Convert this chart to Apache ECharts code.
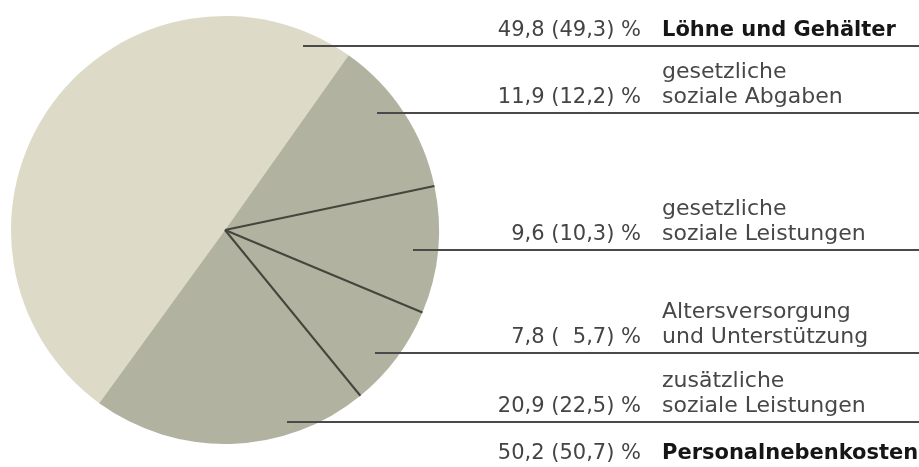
<!DOCTYPE html>
<html>
<head>
<meta charset="utf-8">
<script src="https://cdn.jsdelivr.net/npm/echarts@6/dist/echarts.min.js"></script>
<style>
  html, body { margin: 0; padding: 0; background: #ffffff; }
  #chart { width: 919px; height: 467px; }
</style>
</head>
<body>
<div id="chart"></div>
<script>
// Anteile an den Personalkosten in Prozent (Vorjahr in Klammern)
const names = [
  ['Löhne und Gehälter'],
  ['gesetzliche', 'soziale Abgaben'],
  ['gesetzliche', 'soziale Leistungen'],
  ['Altersversorgung', 'und Unterstützung'],
  ['zusätzliche', 'soziale Leistungen']
];
const shares = [49.8, 11.9, 9.6, 7.8, 20.9];
const sharesPrev = [49.3, 12.2, 10.3, 5.7, 22.5];
const totalName = 'Personalnebenkosten';

// Layout
const CX = 225, CY = 230, R = 214, START = 234;
const rowLineY = [46, 113, 250, 353, 422];
const leaderStartX = [303, 377, 413, 375, 287];
const NUM_RIGHT = 641, TXT_LEFT = 662, LINE_END = 919;
const TOTAL_BOTTOM = 467;

// Styles
const FONT = '"DejaVu Sans"';
const FS = 22, FS_NUM = 21, FS_BOLD = 21, LH = 25;
const LIGHT = '#dddbc7', DARK = '#b1b3a0';
const NUM_COLOR = '#444444', TXT_COLOR = '#474747', BOLD_COLOR = '#161616';
const LEADER_COLOR = '#4a4a4a', SPOKE_COLOR = '#44463c';

const fmtCur = v => v.toFixed(1).replace('.', ',');
const fmtPrev = v => (v < 10 ? '\u2007' : '') + v.toFixed(1).replace('.', ',');
const numText = (cur, prev) => fmtCur(cur) + ' (' + fmtPrev(prev) + ') %';

// Personalnebenkosten = Summe aller Anteile außer Löhnen und Gehältern
const sumFrom1 = arr => arr.slice(1).reduce((a, b) => a + b, 0);
const total = sumFrom1(shares);
const totalPrev = sumFrom1(sharesPrev);

const baseText = { fontFamily: FONT, fontSize: FS, lineHeight: LH };

// Radial separators between the cost components after the first slice
const allSum = shares.reduce((a, b) => a + b, 0);
const spokes = [];
let cum = shares[0];
for (let i = 1; i < shares.length - 1; i++) {
  cum += shares[i];
  const a = (START - 360 * cum / allSum) * Math.PI / 180;
  spokes.push({
    type: 'line',
    z: 10,
    silent: true,
    shape: { x1: CX, y1: CY, x2: CX + R * Math.cos(a), y2: CY - R * Math.sin(a) },
    style: { stroke: SPOKE_COLOR, lineWidth: 2 }
  });
}

const chart = echarts.init(document.getElementById('chart'));
chart.setOption({
  animation: false,
  backgroundColor: '#ffffff',
  graphic: spokes.concat([
    {
      type: 'text', z: 10, silent: true,
      style: {
        x: NUM_RIGHT, y: TOTAL_BOTTOM - 3, text: numText(total, totalPrev),
        textAlign: 'right', textVerticalAlign: 'bottom',
        font: FS_NUM + 'px ' + FONT, fill: NUM_COLOR
      }
    },
    {
      type: 'text', z: 10, silent: true,
      style: {
        x: TXT_LEFT, y: TOTAL_BOTTOM - 3, text: totalName,
        textAlign: 'left', textVerticalAlign: 'bottom',
        font: 'bold ' + FS_BOLD + 'px ' + FONT, fill: BOLD_COLOR
      }
    }
  ]),
  series: [
    {
      type: 'pie',
      z: 2,
      center: [CX, CY],
      radius: R,
      startAngle: START,
      clockwise: true,
      silent: true,
      avoidLabelOverlap: false,
      data: shares.map((v, i) => ({
        value: v,
        name: names[i].join(' '),
        itemStyle: { color: i === 0 ? LIGHT : DARK }
      })),
      itemStyle: { borderWidth: 0 },
      label: {
        show: true,
        position: 'outside',
        ...baseText,
        formatter: p => {
          const lines = names[p.dataIndex];
          const key = p.dataIndex === 0 ? 'b' : 't';
          return lines.map(s => '{' + key + '|' + s + '}').join('\n');
        },
        rich: {
          b: { ...baseText, fontSize: FS_BOLD, fontWeight: 'bold', color: BOLD_COLOR },
          t: { ...baseText, color: TXT_COLOR }
        }
      },
      labelLine: { show: false },
      labelLayout: p => ({
        x: TXT_LEFT, y: rowLineY[p.dataIndex] - 3,
        align: 'left', verticalAlign: 'bottom'
      }),
      emphasis: { disabled: true }
    },
    {
      // transparent twin above the pie: percentage labels and leader lines
      type: 'pie',
      z: 5,
      center: [CX, CY],
      radius: R,
      startAngle: START,
      clockwise: true,
      silent: true,
      avoidLabelOverlap: false,
      data: shares.map((v, i) => ({ value: v, name: names[i].join(' ') })),
      itemStyle: { color: 'rgba(0,0,0,0)', borderWidth: 0 },
      label: {
        show: true,
        position: 'outside',
        ...baseText,
        fontSize: FS_NUM,
        color: NUM_COLOR,
        formatter: p => numText(shares[p.dataIndex], sharesPrev[p.dataIndex])
      },
      labelLine: { show: true, lineStyle: { color: LEADER_COLOR, width: 1.8 } },
      labelLayout: p => {
        const i = p.dataIndex;
        return {
          x: NUM_RIGHT, y: rowLineY[i] - 3,
          align: 'right', verticalAlign: 'bottom',
          labelLinePoints: [[leaderStartX[i], rowLineY[i]], [LINE_END, rowLineY[i]]]
        };
      },
      emphasis: { disabled: true }
    }
  ]
});
</script>
</body>
</html>
